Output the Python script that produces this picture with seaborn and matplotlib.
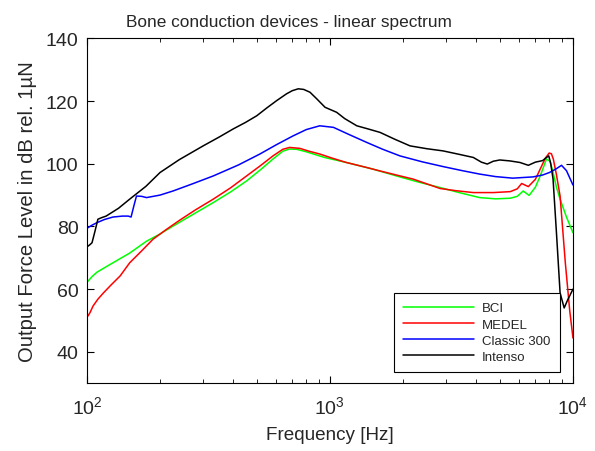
import numpy as np
import pandas as pd
import matplotlib
matplotlib.use("Agg")
import matplotlib.pyplot as plt
import seaborn as sns
from matplotlib.ticker import LogLocator, FixedLocator

# Data (frequency in Hz, level in dB rel. 1 uN)
bci_f = [101, 105, 110, 118, 128, 150, 176, 200, 226, 270, 331, 390, 454, 520, 583, 640, 682, 730, 800, 950, 1168, 1500, 1880, 2300, 2840, 3400, 4130, 4800, 5520, 5900, 6240, 6600, 7000, 7330, 7780, 8050, 8280, 8550, 8850, 9400, 10000]
bci_db = [62.5, 64.0, 65.4, 66.8, 68.4, 71.5, 75.3, 77.6, 80.1, 83.6, 87.6, 91.0, 94.5, 98.2, 101.5, 104.0, 104.7, 104.6, 103.8, 102.0, 100.4, 98.3, 96.1, 94.2, 92.4, 90.8, 89.2, 88.8, 89.0, 89.6, 91.3, 89.9, 92.5, 96.1, 101.5, 100.8, 97.2, 92.5, 88.7, 83.0, 78.0]

medel_f = [101, 103, 106, 111, 117, 126, 137, 150, 167, 187, 212, 241, 280, 331, 390, 454, 520, 583, 640, 682, 752, 820, 908, 1020, 1168, 1400, 1607, 1900, 2200, 2500, 2840, 3300, 3890, 4700, 5520, 5900, 6150, 6550, 7000, 7330, 7700, 7980, 8150, 8300, 8550, 8850, 9300, 9700, 10000]
medel_db = [51.4, 52.5, 54.6, 56.8, 58.8, 61.4, 64.2, 68.4, 72.0, 75.9, 79.0, 82.0, 85.3, 88.7, 92.3, 96.1, 99.5, 102.5, 104.6, 105.2, 104.9, 104.0, 103.1, 101.8, 100.4, 98.9, 97.7, 96.3, 95.1, 93.6, 92.1, 91.4, 90.8, 90.8, 91.1, 92.0, 93.7, 92.7, 95.0, 98.3, 101.8, 103.4, 103.2, 101.5, 96.5, 89.7, 68.4, 53.0, 44.4]

classic_f = [101, 105, 110, 118, 128, 140, 148, 152, 156, 160, 168, 176, 200, 226, 270, 331, 420, 515, 600, 706, 800, 908, 1034, 1200, 1417, 1650, 1941, 2400, 2918, 3500, 4130, 4800, 5650, 6850, 7500, 8000, 8500, 8970, 9400, 10000]
classic_db = [79.6, 80.4, 81.2, 82.2, 83.0, 83.3, 83.3, 83.0, 86.5, 89.7, 89.6, 89.2, 90.0, 91.3, 93.5, 96.1, 99.6, 103.1, 106.0, 108.9, 110.9, 112.1, 111.6, 109.3, 106.8, 104.6, 102.5, 100.6, 99.1, 97.8, 96.7, 95.9, 95.4, 95.8, 96.4, 97.2, 98.3, 99.5, 97.8, 93.2]

intenso_f = [101, 103, 105, 108, 111, 115, 120, 135, 150, 175, 200, 240, 301, 350, 400, 450, 500, 550, 603, 663, 700, 741, 780, 828, 880, 955, 1066, 1150, 1290, 1450, 1607, 1850, 2135, 2500, 2918, 3400, 3890, 4200, 4440, 4700, 5000, 5500, 6050, 6550, 7000, 7500, 7780, 7950, 8100, 8280, 8550, 8850, 9200, 9500, 10000]
intenso_db = [73.7, 74.2, 74.8, 78.5, 82.3, 82.8, 83.3, 85.8, 88.7, 92.8, 97.2, 101.3, 105.7, 108.5, 111.1, 113.2, 115.3, 117.8, 120.1, 122.3, 123.3, 123.9, 123.7, 122.8, 120.8, 118.0, 116.4, 114.4, 112.1, 111.0, 110.0, 107.8, 105.7, 104.8, 104.1, 103.0, 102.0, 100.5, 99.9, 100.8, 101.2, 100.9, 100.4, 99.5, 100.5, 101.0, 102.0, 102.5, 100.0, 95.1, 78.0, 58.8, 54.0, 56.5, 60.0]

series_names = ["BCI", "MEDEL", "Classic 300", "Intenso"]
series_colors = ["#00ff00", "#ff0000", "#0000ff", "#000000"]
y_ticks = [40, 60, 80, 100, 120, 140]

frames = []
for name, f, d in zip(series_names, [bci_f, medel_f, classic_f, intenso_f],
                      [bci_db, medel_db, classic_db, intenso_db]):
    frames.append(pd.DataFrame({"freq": f, "level": d, "device": name}))
df = pd.concat(frames, ignore_index=True)

sns.set_style("ticks")
plt.rcParams["font.family"] = ["Liberation Sans", "DejaVu Sans"]
plt.rcParams["mathtext.fontset"] = "custom"
plt.rcParams["mathtext.rm"] = "Liberation Sans"
plt.rcParams["mathtext.it"] = "Liberation Sans:italic"
plt.rcParams["xtick.direction"] = "in"
plt.rcParams["ytick.direction"] = "in"

fig = plt.figure(figsize=(5.95, 4.52), dpi=100)
ax = fig.add_axes([0.146, 0.150, 0.817, 0.763])

sns.lineplot(data=df, x="freq", y="level", hue="device", hue_order=series_names,
             palette=series_colors, sort=False, estimator=None, linewidth=1.1, ax=ax)

ax.set_xscale("log")
ax.set_xlim(100, 10000)
ax.set_ylim(30, 140)
ax.yaxis.set_major_locator(FixedLocator(y_ticks))
ax.xaxis.set_major_locator(LogLocator(base=10))
ax.xaxis.set_minor_locator(LogLocator(base=10, subs=np.arange(2, 10)))
ax.tick_params(axis="both", which="both", top=True, right=True, direction="in",
               labelsize=14, color="black")
ax.tick_params(axis="both", which="major", length=5, width=0.8)
ax.tick_params(axis="x", which="minor", length=3, width=0.6)
ax.tick_params(axis="x", which="major", pad=9)
ax.tick_params(axis="y", which="major", pad=6)
for s in ax.spines.values():
    s.set_color("black")
    s.set_linewidth(0.8)

ax.set_title("Bone conduction devices - linear spectrum", fontsize=12.4, pad=9, x=0.4167)
ax.set_xlabel("Frequency [Hz]", fontsize=13.6, labelpad=6)
ax.set_ylabel("Output Force Level in dB rel. 1\u00b5N", fontsize=14.6, labelpad=6)

leg = ax.legend(loc="lower right", bbox_to_anchor=(0.973, 0.032), borderaxespad=0,
                fontsize=9.5, frameon=True, fancybox=False, edgecolor="black",
                framealpha=1, handlelength=5.4, borderpad=0.7, labelspacing=0.3,
                handletextpad=0.6)
leg.get_frame().set_linewidth(0.8)

fig.savefig("out.png", dpi=100)
